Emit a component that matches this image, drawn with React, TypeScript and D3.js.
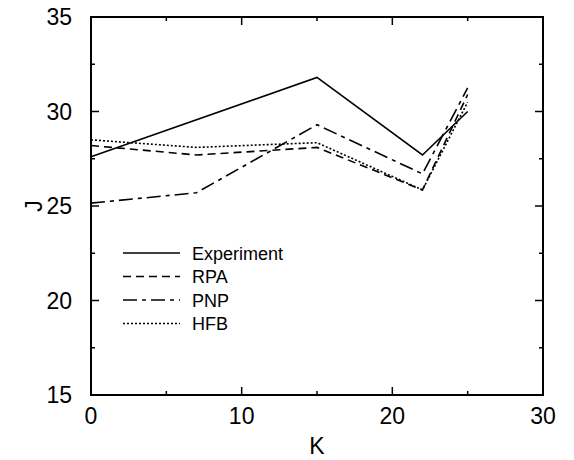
import React from "react";
import * as d3 from "d3";

const kExperiment = [0, 15, 22, 25];
const jExperiment = [27.6, 31.8, 27.7, 30.0];
const kRPA = [0, 7, 15, 22, 25];
const jRPA = [28.2, 27.7, 28.1, 25.85, 30.9];
const kPNP = [0, 7, 15, 22, 25];
const jPNP = [25.15, 25.7, 29.3, 26.7, 31.25];
const kHFB = [0, 7, 15, 22, 25];
const jHFB = [28.5, 28.1, 28.35, 25.85, 30.5];

const xMajor = [0, 10, 20, 30];
const xMinor = [5, 15, 25];
const yMajor = [15, 20, 25, 30, 35];
const yMinor = [17.5, 22.5, 27.5, 32.5];
const seriesNames = ["Experiment", "RPA", "PNP", "HFB"];

const W = 574, H = 460;
const L = 91, R = 543, T = 17, B = 395;

export default function App() {
  const x = d3.scaleLinear().domain([0, 30]).range([L, R]);
  const y = d3.scaleLinear().domain([15, 35]).range([B, T]);
  const line = d3.line<[number, number]>().x(d => x(d[0])).y(d => y(d[1]));
  const series = [
    { name: seriesNames[0], k: kExperiment, j: jExperiment, dash: "none" },
    { name: seriesNames[1], k: kRPA, j: jRPA, dash: "8 5" },
    { name: seriesNames[2], k: kPNP, j: jPNP, dash: "14 5 4 5" },
    { name: seriesNames[3], k: kHFB, j: jHFB, dash: "2 2" },
  ];
  const font = "Liberation Sans, Arial, Helvetica, sans-serif";
  return (
    <svg width={W} height={H} style={{ position: "absolute", left: 0, top: 0, background: "#fff" }}>
      <rect x={0} y={0} width={W} height={H} fill="#fff" />
      {series.map(s => (
        <path key={s.name} d={line(s.k.map((k, i) => [k, s.j[i]] as [number, number])) || ""}
          fill="none" stroke="#000" strokeWidth={1.6} strokeDasharray={s.dash} />
      ))}
      <rect x={L} y={T} width={R - L} height={B - T} fill="none" stroke="#000" strokeWidth={2} />
      {xMajor.map(v => (
        <g key={"xM" + v}>
          <line x1={x(v)} x2={x(v)} y1={B} y2={B - 8} stroke="#000" strokeWidth={1.5} />
          <line x1={x(v)} x2={x(v)} y1={T} y2={T + 8} stroke="#000" strokeWidth={1.5} />
          <text x={x(v)} y={B + 29} textAnchor="middle" fontSize={23} fontFamily={font}>{v}</text>
        </g>
      ))}
      {xMinor.map(v => (
        <g key={"xm" + v}>
          <line x1={x(v)} x2={x(v)} y1={B} y2={B - 4} stroke="#000" strokeWidth={1.5} />
          <line x1={x(v)} x2={x(v)} y1={T} y2={T + 4} stroke="#000" strokeWidth={1.5} />
        </g>
      ))}
      {yMajor.map(v => (
        <g key={"yM" + v}>
          <line x1={L} x2={L + 8} y1={y(v)} y2={y(v)} stroke="#000" strokeWidth={1.5} />
          <line x1={R} x2={R - 8} y1={y(v)} y2={y(v)} stroke="#000" strokeWidth={1.5} />
          <text x={L - 19} y={y(v) + 8} textAnchor="end" fontSize={23} fontFamily={font}>{v}</text>
        </g>
      ))}
      {yMinor.map(v => (
        <g key={"ym" + v}>
          <line x1={L} x2={L + 4} y1={y(v)} y2={y(v)} stroke="#000" strokeWidth={1.5} />
          <line x1={R} x2={R - 4} y1={y(v)} y2={y(v)} stroke="#000" strokeWidth={1.5} />
        </g>
      ))}
      <text x={(L + R) / 2} y={454} textAnchor="middle" fontSize={23} fontFamily={font}>K</text>
      <text transform={`translate(${34},${y(25)}) rotate(-90)`} textAnchor="middle" dy={8} fontSize={23} fontFamily={font}>J</text>
      {series.map((s, i) => (
        <g key={"lg" + s.name}>
          <line x1={123} x2={180} y1={253 + i * 23.5} y2={253 + i * 23.5} stroke="#000" strokeWidth={1.6} strokeDasharray={s.dash} />
          <text x={192} y={253 + i * 23.5 + 6.5} fontSize={18} fontFamily={font}>{s.name}</text>
        </g>
      ))}
    </svg>
  );
}
